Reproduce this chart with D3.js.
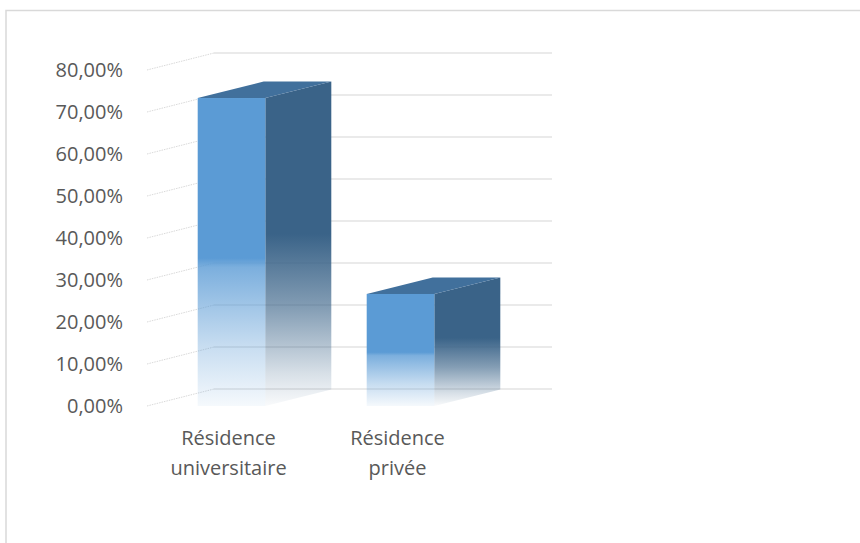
<!DOCTYPE html>
<html><head><meta charset="utf-8">
<script src="https://cdn.jsdelivr.net/npm/d3@7"></script>
<style>html,body{margin:0;padding:0;background:#fff;}svg{display:block;}</style>
</head><body>
<svg id="chart" width="860" height="543"></svg>
<script>
// ---- data ----
const categories = [["Résidence", "universitaire"], ["Résidence", "privée"]];
const values = [0.7333, 0.2667];
const tickValues = [0, 0.1, 0.2, 0.3, 0.4, 0.5, 0.6, 0.7, 0.8];
const tickLabels = ["0,00%", "10,00%", "20,00%", "30,00%", "40,00%", "50,00%", "60,00%", "70,00%", "80,00%"];

const svg = d3.select("#chart");
const W = 860, H = 543;
svg.append("rect").attr("width", W).attr("height", H).attr("fill", "#fff");
// frame
svg.append("rect").attr("x", 6).attr("y", 10.5).attr("width", 900).attr("height", 600)
  .attr("fill", "none").attr("stroke", "#d9d9d9").attr("stroke-width", 1.5);

const frontLeft = 147, frontRight = 485;
const depthX = 67, depthY = -17;
const barDX = 66, barDY = -16.5;
const FS = 20;

const y = d3.scaleLinear().domain([0, 0.8]).range([406, 70]);
const x = d3.scaleBand().domain(d3.range(categories.length)).range([frontLeft, frontRight])
  .paddingInner(0.6).paddingOuter(0.3);

// gradients
const defs = svg.append("defs");
function grad(id, color, stops) {
  const g = defs.append("linearGradient").attr("id", id).attr("x1", 0).attr("y1", 0).attr("x2", 0).attr("y2", 1);
  stops.forEach(s => g.append("stop").attr("offset", s[0]).attr("stop-color", s[2] || color).attr("stop-opacity", s[1]));
}
grad("gFront", "#5b9bd5", [[0, 1], [0.52, 1], [0.55, 0.8], [0.8, 0.35], [1, 0.06]]);
grad("gSide", "#3a6388", [[0, 1], [0.47, 1], [0.7, 0.62], [0.9, 0.2], [1, 0.03]]);

// back-wall gridlines
const grid = svg.append("g");
tickValues.forEach(t => {
  grid.append("line")
    .attr("x1", frontLeft + depthX).attr("x2", frontRight + depthX)
    .attr("y1", y(t) + depthY).attr("y2", y(t) + depthY)
    .attr("stroke", "#e3e3e3").attr("stroke-width", 1.3);
  grid.append("line")
    .attr("x1", frontLeft).attr("y1", y(t))
    .attr("x2", frontLeft + depthX).attr("y2", y(t) + depthY)
    .attr("stroke", "#cfcfcf").attr("stroke-width", 0.8).attr("stroke-dasharray", "1.5,1");
});

// y-axis labels
svg.append("g").selectAll("text").data(tickValues).join("text")
  .attr("x", 123).attr("y", d => y(d)).attr("dy", "0.36em")
  .attr("text-anchor", "end")
  .attr("font-family", "'Open Sans', sans-serif").attr("font-size", FS)
  .attr("fill", "#595959")
  .text((d, i) => tickLabels[i]);

// bars
const bars = svg.append("g");
values.forEach((v, i) => {
  const x0 = x(i), x1 = x(i) + x.bandwidth();
  const yt = y(v), yb = y(0);
  bars.append("path")
    .attr("d", `M${x1},${yt} L${x1 + barDX},${yt + barDY} L${x1 + barDX},${yb + barDY} L${x1},${yb} Z`)
    .attr("fill", "url(#gSide)");
  bars.append("path")
    .attr("d", `M${x0},${yt} L${x0 + barDX},${yt + barDY} L${x1 + barDX},${yt + barDY} L${x1},${yt} Z`)
    .attr("fill", "#41709c");
  bars.append("rect")
    .attr("x", x0).attr("y", yt).attr("width", x1 - x0).attr("height", yb - yt)
    .attr("fill", "url(#gFront)");
});

// category labels
const labelCenters = categories.map((c, i) => x(i) + x.bandwidth() / 2 - 3);
const cat = svg.append("g");
categories.forEach((lines, i) => {
  const t = cat.append("text")
    .attr("text-anchor", "middle")
    .attr("font-family", "'Open Sans', sans-serif").attr("font-size", FS)
    .attr("fill", "#595959");
  lines.forEach((ln, j) => {
    t.append("tspan").attr("x", labelCenters[i]).attr("y", 445 + j * 30).text(ln);
  });
});
</script>
</body></html>
